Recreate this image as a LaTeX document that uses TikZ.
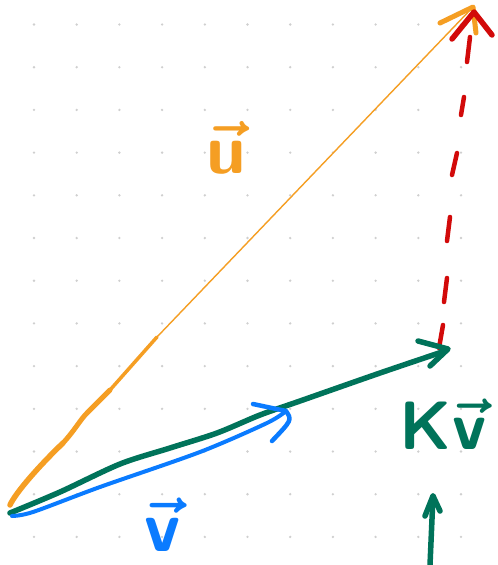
\documentclass[tikz,border=0pt]{standalone}
\usepackage{fontspec}
\definecolor{uorange}{HTML}{F59E23}
\definecolor{kred}{HTML}{D20A0A}
\definecolor{kgreen}{HTML}{00735A}
\definecolor{vblue}{HTML}{0A7BFF}
\definecolor{dotgray}{HTML}{CFCFCF}
\newcommand{\hw}[1]{\hbox{\sffamily\bfseries #1}}
\tikzset{
  pen/.style={line cap=round, line join=round},
  lbl/.style={inner sep=0pt, font=\huge\boldmath},
}
\begin{document}
\begin{tikzpicture}[x=1pt,y=-1pt]
\useasboundingbox (0,0) rectangle (498,565);
\fill[white] (0,0) rectangle (498,565);
% dot grid
\foreach \i in {0,...,10}
  \foreach \j in {0,...,12}
    \fill[dotgray] ({34+42.7*\i},{24.5+42.7*\j}) circle (1.3pt);
% key points
\coordinate (O) at (10,513);
\coordinate (Utip) at (473,7);
\coordinate (Rtip) at (474,12);
\coordinate (Gtip) at (448,349);
\coordinate (Btip) at (286,411);
\coordinate (Atip) at (433,496);
\coordinate (Abot) at (430,565);
% orange u
\draw[pen, uorange, line width=5.5] (10,505) .. controls (16,492) and (40,465) .. (63,443);
\draw[pen, uorange, line width=5] (63,443) .. controls (75,430) and (80,420) .. (87,413) -- (110,390);
\draw[pen, uorange, line width=3.5] (110,390) -- (157,337);
\draw[pen, uorange, line width=1.4] (157,337) -- (Utip);
\draw[pen, uorange, line width=5] (440,23) -- (Utip) -- (476,33);
% red dashed
\foreach \a/\b in {{(470,37)}/{(467,62)}, {(464,97)}/{(461,115)}, {(457,153)}/{(452,175)},
                   {(450,217)}/{(447,241)}, {(447,278)}/{(444,302)}, {(443,325)}/{(439,348)}}
  \draw[pen, kred, line width=4.5] \a -- \b;
\draw[pen, kred, line width=5.5] (452,39) -- (Rtip) -- (492,35);
% green kv
\draw[pen, kgreen, line width=5.5] plot[smooth] coordinates {(10,513) (60,492) (120,464) (170,448) (217,433) (260,415) (300,401) (380,373) (445,351)};
\draw[pen, kgreen, line width=5.5] (418,341) -- (Gtip) -- (430,366);
% blue v
\draw[pen, vblue, line width=4] plot[smooth] coordinates {(12,516) (33,512) (100,487) (200,452) (267,423) (Btip)};
\draw[pen, vblue, line width=4.5] (253,404) -- (Btip) .. controls (292,420) .. (272,441);
% green up arrow
\draw[pen, kgreen, line width=5.5] (Abot) -- (Atip);
\draw[pen, kgreen, line width=5.5] (425,516) -- (Atip) -- (440,511);
% labels
\node[lbl, text=uorange, scale=3.4] (ulabel) at (226,148) {$\vec{\hw{u}}$};
\node[lbl, text=vblue, scale=3.5] (vlabel) at (163,525) {$\vec{\hw{v}}$};
\node[lbl, text=kgreen, scale=3.3] (kvlabel) at (443,424) {$\hw{K}\vec{\hw{v}}$};
\end{tikzpicture}
\end{document}
